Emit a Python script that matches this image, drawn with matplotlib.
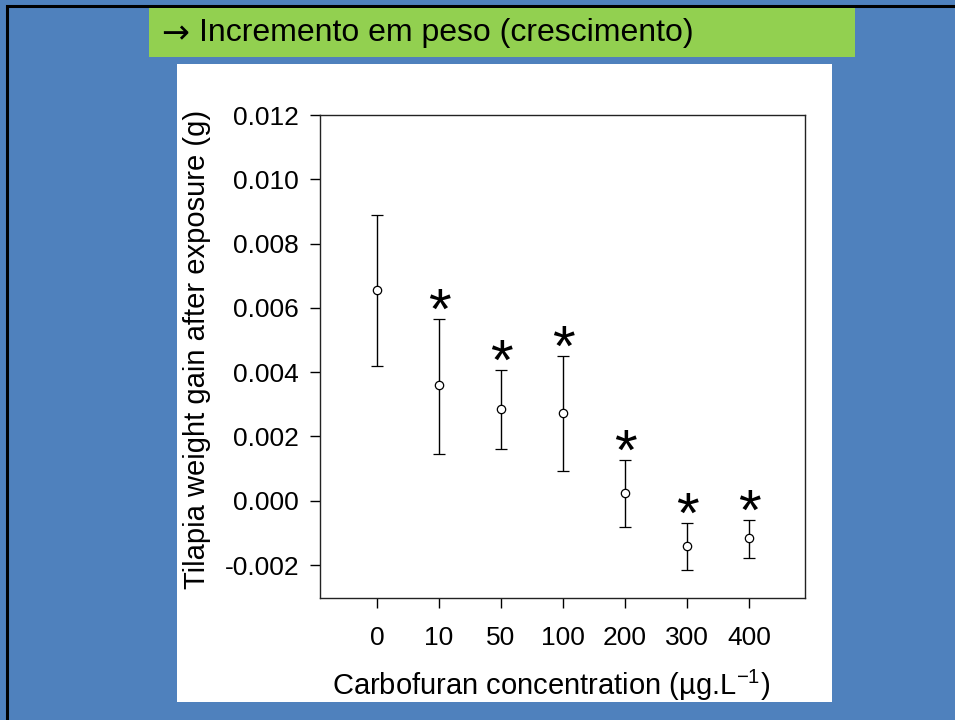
import matplotlib
matplotlib.use('Agg')
import matplotlib.pyplot as plt
from matplotlib.patches import Rectangle

categories = ['0', '10', '50', '100', '200', '300', '400']
means = [0.00655, 0.00359, 0.00284, 0.00274, 0.00025, -0.00140, -0.00117]
upper = [0.00888, 0.00566, 0.00406, 0.00450, 0.00127, -0.00070, -0.00061]
lower = [0.00420, 0.00146, 0.00160, 0.00093, -0.00082, -0.00215, -0.00178]
significant = [False, True, True, True, True, True, True]
yticks = [-0.002, 0.000, 0.002, 0.004, 0.006, 0.008, 0.010, 0.012]
ytick_labels = ['-0.002', '0.000', '0.002', '0.004', '0.006', '0.008', '0.010', '0.012']

plt.rcParams['font.family'] = ['Liberation Sans', 'DejaVu Sans']
plt.rcParams['axes.unicode_minus'] = False
plt.rcParams['mathtext.fontset'] = 'custom'
plt.rcParams['mathtext.rm'] = 'Liberation Sans'
plt.rcParams['mathtext.it'] = 'Liberation Sans:italic'

W, H = 955, 720
fig = plt.figure(figsize=(W / 100, H / 100), dpi=100)
fig.patch.set_facecolor('#4F81BD')

fig.patches.append(Rectangle((7 / W, -0.2), 1.5, 1.2 - 5.5 / H, transform=fig.transFigure,
                             fill=False, edgecolor='black', lw=2.2, zorder=-10))
fig.patches.append(Rectangle((149 / W, 1 - 57 / H), 706 / W, 49 / H, transform=fig.transFigure,
                             facecolor='#92D050', edgecolor='none', zorder=-10))
fig.patches.append(Rectangle((177 / W, 1 - 702 / H), 655 / W, 638 / H, transform=fig.transFigure,
                             facecolor='white', edgecolor='none', zorder=-10))

fig.text(161 / W, 1 - 34 / H, '→', fontsize=24, family='DejaVu Sans',
         ha='left', va='center', color='black')
fig.text(199 / W, 1 - 33 / H, 'Incremento em peso (crescimento)', fontsize=23,
         ha='left', va='center', color='black')

ax = fig.add_axes([320 / W, 1 - 598 / H, 485 / W, 483 / H])
x = list(range(1, len(categories) + 1))
yerr = [[m - l for m, l in zip(means, lower)], [u - m for u, m in zip(upper, means)]]
ax.errorbar(x, means, yerr=yerr, fmt='o', mfc='white', mec='black', ms=6, mew=0.9,
            ecolor='black', elinewidth=1, capsize=4.5, capthick=1)
for xi, u, s in zip(x, upper, significant):
    if s:
        ax.annotate('*', (xi, u), xytext=(0, -7), textcoords='offset points',
                    ha='center', va='baseline', fontsize=42)

ax.set_xlim(0.081, 7.903)
ax.set_ylim(-0.003026, 0.012)
ax.set_xticks(x)
ax.set_xticklabels(categories)
ax.set_yticks(yticks)
ax.set_yticklabels(ytick_labels)
ax.tick_params(axis='both', labelsize=19, length=7, width=1, direction='out')
ax.tick_params(axis='x', pad=13)
ax.tick_params(axis='y', pad=8)
for sp in ax.spines.values():
    sp.set_linewidth(1)
    sp.set_color('#222222')

fig.text(197 / W, 1 - 349 / H, 'Tilapia weight gain after exposure (g)', fontsize=21,
         rotation=90, ha='center', va='center')
fig.text(551 / W, 1 - 685 / H, 'Carbofuran concentration (µg.L$^{-1}$)', fontsize=21,
         ha='center', va='center')

fig.savefig('out.png', dpi=100, facecolor=fig.get_facecolor())
